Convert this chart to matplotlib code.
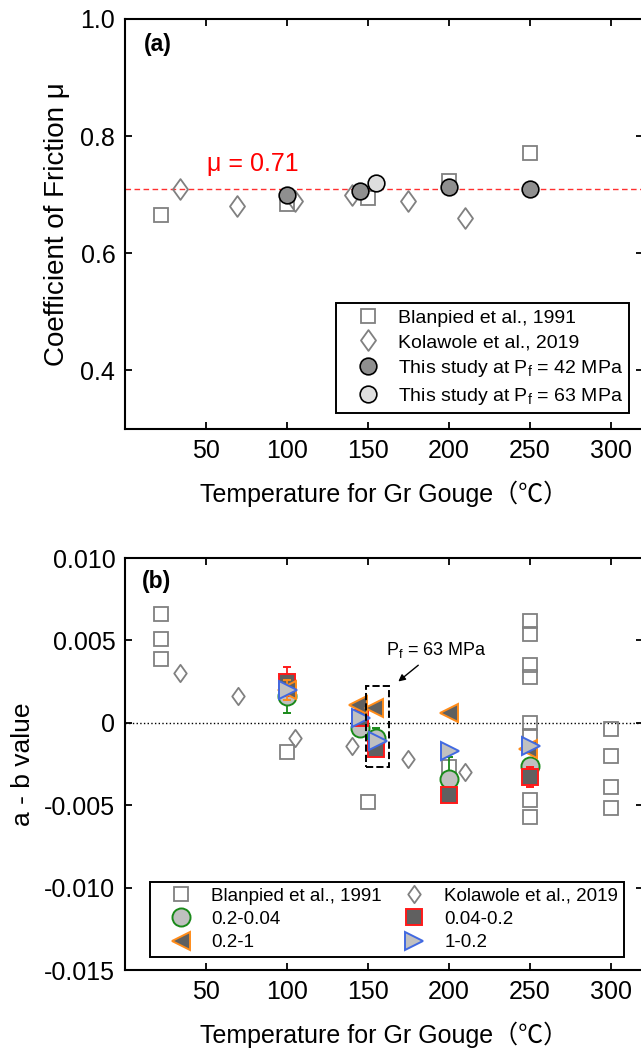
import matplotlib
matplotlib.use('Agg')
import matplotlib.pyplot as plt
from matplotlib.path import Path
from matplotlib.patches import Rectangle
from matplotlib.lines import Line2D

plt.rcParams['font.family'] = ['Liberation Sans', 'Noto Sans CJK SC', 'DejaVu Sans']
plt.rcParams['mathtext.fontset'] = 'custom'
plt.rcParams['mathtext.rm'] = 'Liberation Sans'
plt.rcParams['mathtext.it'] = 'Liberation Sans'

# ---- panel (a): friction coefficient ----
blan_T_a = [22, 100, 150, 200, 250]
blan_mu = [0.666, 0.684, 0.694, 0.723, 0.771]
kola_T_a = [34, 69, 105, 140, 175, 210]
kola_mu = [0.709, 0.680, 0.689, 0.700, 0.689, 0.660]
s42_T = [100, 145, 200, 250]
s42_mu = [0.700, 0.706, 0.714, 0.709]
s63_T = [155]
s63_mu = [0.720]
mu_mean = 0.71

# ---- panel (b): a - b ----
blan_T_b = [22, 22, 22, 100, 150, 200, 250, 250, 250, 250, 250, 250, 250, 250,
            300, 300, 300, 300]
blan_ab = [0.0066, 0.0051, 0.0039, -0.0018, -0.0048, -0.0027,
           0.0062, 0.0054, 0.0035, 0.0028, 0.0000, -0.0008, -0.0047, -0.0057,
           -0.0004, -0.0020, -0.0039, -0.0052]
kola_T_b = [34, 70, 105, 140, 175, 210]
kola_ab = [0.0030, 0.0016, -0.0009, -0.0014, -0.0022, -0.0030]

step_T = [100, 145, 155, 200, 250]
ab_02_004 = [0.0016, -0.0003, -0.0009, -0.0034, -0.0026]
err_02_004 = [0.0010, 0.0002, 0.0006, 0.0013, 0.0003]
ab_004_02 = [0.0025, 0.0003, -0.0016, -0.0044, -0.0033]
err_004_02 = [0.0009, 0.0002, 0.0002, 0.0001, 0.0006]
step_T_02_1 = [100, 144, 154, 200, 249]
ab_02_1 = [0.0020, 0.0011, 0.0009, 0.0006, -0.0016]
err_02_1 = [0.0006, 0.0, 0.0, 0.0, 0.0]
step_T_1_02 = [101, 146, 156, 201, 251]
ab_1_02 = [0.0020, 0.0003, -0.0011, -0.0017, -0.0014]

xticks = [50, 100, 150, 200, 250, 300]
yticks_a = [0.4, 0.6, 0.8, 1.0]
yticks_b = [-0.015, -0.010, -0.005, 0.0, 0.005, 0.010]

diamond = Path([(0, 1), (0.72, 0), (0, -1), (-0.72, 0), (0, 1)],
               [Path.MOVETO, Path.LINETO, Path.LINETO, Path.LINETO, Path.CLOSEPOLY])

GRAY = '#808080'
DARK = '#606060'
LIGHT = '#c0c0c0'
GREEN = '#1a8a1a'
RED = '#ff1a1a'
ORANGE = '#ff8c1a'
BLUE = '#4169e1'
xlabel = 'Temperature for Gr Gouge（℃）'

fig = plt.figure(figsize=(6.41, 10.49), dpi=100)
ax1 = fig.add_axes([125 / 641, 1 - 429 / 1049, 518 / 641, 410 / 1049])
ax2 = fig.add_axes([125 / 641, 1 - 970 / 1049, 518 / 641, 412 / 1049])


def style(ax):
    for sp in ax.spines.values():
        sp.set_linewidth(1.5)
    ax.tick_params(direction='in', length=5, width=1.3, top=True, right=True,
                   labelsize=18, pad=7)
    ax.set_xlim(0, 320)
    ax.set_xticks(xticks)


# panel (a)
style(ax1)
ax1.set_ylim(0.3, 1.0)
ax1.set_yticks(yticks_a)
ax1.set_yticklabels(['%.1f' % v for v in yticks_a])
ax1.axhline(mu_mean, color='#ff3030', ls='--', lw=1, dashes=(4, 2.5), zorder=1)
ax1.text(50.5, 0.74, 'μ = %.2f' % mu_mean, color='red', fontsize=18, va='baseline')
ax1.plot(blan_T_a, blan_mu, ls='none', marker='s', ms=10, mfc='none', mec=GRAY,
         mew=1.3, label='Blanpied et al., 1991', zorder=2)
ax1.plot(kola_T_a, kola_mu, ls='none', marker=diamond, ms=15, mfc='none', mec=GRAY,
         mew=1.3, label='Kolawole et al., 2019', zorder=2)
ax1.plot(s42_T, s42_mu, ls='none', marker='o', ms=12, mfc='#8f8f8f', mec='black',
         mew=1.2, label=r'This study at $\mathregular{P_f}$ = 42 MPa', zorder=3)
ax1.plot(s63_T, s63_mu, ls='none', marker='o', ms=12, mfc='#dedede', mec='black',
         mew=1.2, label=r'This study at $\mathregular{P_f}$ = 63 MPa', zorder=3)
ax1.text(0.037, 0.937, '(a)', transform=ax1.transAxes, fontsize=16.5,
         fontweight='bold', va='center')
ax1.set_ylabel('Coefficient of Friction μ', fontsize=20, va='center')
ax1.yaxis.set_label_coords(-0.131, 0.5)
ax1.set_xlabel(xlabel, fontsize=18, va='center')
ax1.xaxis.set_label_coords(0.5, -65 / 410)
leg1 = ax1.legend(loc='lower right', bbox_to_anchor=(0.973, 0.039), fontsize=14,
                  frameon=True, fancybox=False, edgecolor='black', framealpha=1,
                  borderpad=0.3, labelspacing=0.36, handlelength=2.7,
                  handletextpad=0.2, borderaxespad=0)
leg1.get_frame().set_linewidth(1.4)

# panel (b)
style(ax2)
ax2.set_ylim(-0.015, 0.010)
ax2.set_yticks(yticks_b)
ax2.set_yticklabels(['0' if v == 0 else '%.3f' % v for v in yticks_b])
ax2.axhline(0, color='black', ls=':', lw=1, zorder=1)
ax2.plot(blan_T_b, blan_ab, ls='none', marker='s', ms=9.5, mfc='none', mec=GRAY,
         mew=1.3, zorder=2)
ax2.plot(kola_T_b, kola_ab, ls='none', marker=diamond, ms=12.5, mfc='none',
         mec=GRAY, mew=1.3, zorder=2)
ax2.errorbar(step_T, ab_02_004, yerr=err_02_004, fmt='o', ms=13, mfc=LIGHT,
             mec=GREEN, mew=1.4, ecolor=GREEN, elinewidth=1.3, capsize=3,
             capthick=1.3, zorder=3)
ax2.errorbar(step_T, ab_004_02, yerr=err_004_02, fmt='s', ms=11, mfc=DARK,
             mec=RED, mew=1.4, ecolor=RED, elinewidth=1.3, capsize=3,
             capthick=1.3, zorder=4)
ax2.errorbar(step_T_02_1, ab_02_1, yerr=err_02_1, fmt='<', ms=12.5, mfc=DARK,
             mec=ORANGE, mew=1.4, ecolor=ORANGE, elinewidth=1.3, capsize=3,
             capthick=1.3, zorder=5)
ax2.plot(step_T_1_02, ab_1_02, ls='none', marker='>', ms=12.5, mfc=LIGHT,
         mec=BLUE, mew=1.4, zorder=6)
ax2.add_patch(Rectangle((148.9, -0.0027), 13.9, 0.00494, fill=False,
                        ec='black', ls='--', lw=1.4, zorder=7))
ax2.annotate('', xy=(167.5, 0.0024), xytext=(182.5, 0.0036),
             arrowprops=dict(arrowstyle='-|>', color='black', lw=1,
                             mutation_scale=10))
ax2.text(161, 0.0041, r'$\mathregular{P_f}$ = 63 MPa', fontsize=13, va='baseline')
ax2.text(0.033, 0.942, '(b)', transform=ax2.transAxes, fontsize=16.5,
         fontweight='bold', va='center')
ax2.set_ylabel('a - b value', fontsize=19, va='center')
ax2.yaxis.set_label_coords(-0.197, 0.5)
ax2.set_xlabel(xlabel, fontsize=18, va='center')
ax2.xaxis.set_label_coords(0.5, -65 / 412)

h = [
    Line2D([], [], ls='none', marker='s', ms=9.5, mfc='none', mec=GRAY, mew=1.3),
    Line2D([], [], ls='none', marker='o', ms=13, mfc=LIGHT, mec=GREEN, mew=1.4),
    Line2D([], [], ls='none', marker='<', ms=12.5, mfc=DARK, mec=ORANGE, mew=1.4),
    Line2D([], [], ls='none', marker=diamond, ms=12.5, mfc='none', mec=GRAY, mew=1.3),
    Line2D([], [], ls='none', marker='s', ms=11, mfc=DARK, mec=RED, mew=1.4),
    Line2D([], [], ls='none', marker='>', ms=12.5, mfc=LIGHT, mec=BLUE, mew=1.4),
]
labels = ['Blanpied et al., 1991', '0.2-0.04', '0.2-1',
          'Kolawole et al., 2019', '0.04-0.2', '1-0.2']
leg2 = ax2.legend(h, labels, ncol=2, loc='lower left',
                  bbox_to_anchor=(0.048, 0.0316), fontsize=13.5, frameon=True,
                  fancybox=False, edgecolor='black', framealpha=1,
                  borderpad=0.3, labelspacing=0.33, handlelength=2.7,
                  handletextpad=0.25, columnspacing=0.4, borderaxespad=0)
leg2.get_frame().set_linewidth(1.4)

fig.savefig('out.png', dpi=100)
